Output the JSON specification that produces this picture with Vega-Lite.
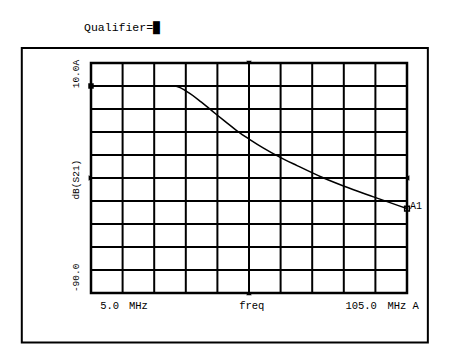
{
  "$schema": "https://vega.github.io/schema/vega-lite/v6.json",
  "width": 316,
  "height": 230,
  "autosize": {"type": "none"},
  "padding": {"left": 91, "top": 63, "right": 49, "bottom": 60},
  "background": "white",
  "config": {
    "view": {"stroke": "black", "strokeWidth": 2.5},
    "axis": {"disable": true},
    "text": {"font": "Liberation Mono", "color": "black"}
  },
  "datasets": {
    "curve": [
      {"freq": 5.0, "db": 0.0},
      {"freq": 20.0, "db": 0.0},
      {"freq": 31.6, "db": 0.0},
      {"freq": 33.5, "db": -0.9},
      {"freq": 36.0, "db": -3.0},
      {"freq": 39.0, "db": -6.0},
      {"freq": 42.0, "db": -9.3},
      {"freq": 45.0, "db": -12.7},
      {"freq": 48.0, "db": -16.0},
      {"freq": 51.2, "db": -19.5},
      {"freq": 55.4, "db": -23.4},
      {"freq": 59.6, "db": -27.0},
      {"freq": 64.3, "db": -30.6},
      {"freq": 70.2, "db": -34.6},
      {"freq": 78.1, "db": -39.7},
      {"freq": 84.9, "db": -43.5},
      {"freq": 94.4, "db": -48.2},
      {"freq": 102.3, "db": -52.0},
      {"freq": 105.0, "db": -53.3}
    ],
    "vgrid": [
      {"freq": 15}, {"freq": 25}, {"freq": 35}, {"freq": 45}, {"freq": 55},
      {"freq": 65}, {"freq": 75}, {"freq": 85}, {"freq": 95}
    ],
    "hgrid": [
      {"db": 0}, {"db": -10}, {"db": -20}, {"db": -30}, {"db": -40},
      {"db": -50}, {"db": -60}, {"db": -70}, {"db": -80}
    ],
    "markers": [
      {"freq": 5.0, "db": 0.0, "kind": "ref"},
      {"freq": 55.0, "db": 10.0, "kind": "top"},
      {"freq": 55.0, "db": -90.0, "kind": "bottom"},
      {"freq": 5.0, "db": -40.0, "kind": "left"},
      {"freq": 105.0, "db": -40.0, "kind": "right"}
    ],
    "active": [{"freq": 105.0, "db": -53.3, "name": "A1"}],
    "xlabels": [
      {"freq": 7.9, "db": -95.5, "label": "5.0"},
      {"freq": 17.0, "db": -95.5, "label": "MHz"},
      {"freq": 51.9, "db": -95.5, "label": "freq"},
      {"freq": 85.5, "db": -95.5, "label": "105.0"},
      {"freq": 98.8, "db": -95.5, "label": "MHz A"}
    ],
    "ylabels": [
      {"freq": 0.3, "db": -1.0, "label": "10.0A"},
      {"freq": 0.3, "db": -49.4, "label": "dB(S21)"},
      {"freq": 0.3, "db": -89.6, "label": "-90.0"}
    ],
    "title": [{"freq": 2.8, "db": 25.2, "label": "Qualifier=█"}],
    "frame": [{"x1": -16.9, "x2": 111.6, "y1": 16.5, "y2": -111.5}]
  },
  "layer": [
    {
      "data": {"name": "frame"},
      "mark": {"type": "rect", "filled": false, "stroke": "black", "strokeWidth": 2, "clip": false},
      "encoding": {
        "x": {"field": "x1", "type": "quantitative", "scale": {"domain": [5, 105], "nice": false, "zero": false}},
        "x2": {"field": "x2"},
        "y": {"field": "y1", "type": "quantitative", "scale": {"domain": [-90, 10], "nice": false, "zero": false}},
        "y2": {"field": "y2"}
      }
    },
    {
      "data": {"name": "vgrid"},
      "mark": {"type": "rule", "color": "black", "strokeWidth": 2},
      "encoding": {
        "x": {"field": "freq", "type": "quantitative"}
      }
    },
    {
      "data": {"name": "hgrid"},
      "mark": {"type": "rule", "color": "black", "strokeWidth": 2},
      "encoding": {
        "y": {"field": "db", "type": "quantitative"}
      }
    },
    {
      "data": {"name": "curve"},
      "mark": {"type": "line", "color": "black", "strokeWidth": 1.5, "interpolate": "monotone"},
      "encoding": {
        "x": {"field": "freq", "type": "quantitative"},
        "y": {"field": "db", "type": "quantitative"}
      }
    },
    {
      "data": {"name": "markers"},
      "mark": {"type": "point", "filled": true, "color": "black", "size": 30, "opacity": 1},
      "encoding": {
        "x": {"field": "freq", "type": "quantitative"},
        "y": {"field": "db", "type": "quantitative"},
        "shape": {"field": "kind", "type": "nominal", "legend": null,
          "scale": {"domain": ["ref", "top", "bottom", "left", "right"], "range": ["square", "triangle-down", "triangle-up", "triangle-right", "triangle-left"]}}
      }
    },
    {
      "data": {"name": "active"},
      "mark": {"type": "point", "shape": "square", "filled": false, "color": "black", "size": 22, "strokeWidth": 1.5, "opacity": 1},
      "encoding": {
        "x": {"field": "freq", "type": "quantitative"},
        "y": {"field": "db", "type": "quantitative"}
      }
    },
    {
      "data": {"name": "active"},
      "mark": {"type": "text", "align": "left", "baseline": "bottom", "dx": 3, "dy": 2, "fontSize": 10},
      "encoding": {
        "x": {"field": "freq", "type": "quantitative"},
        "y": {"field": "db", "type": "quantitative"},
        "text": {"field": "name"}
      }
    },
    {
      "data": {"name": "xlabels"},
      "mark": {"type": "text", "align": "left", "baseline": "middle", "fontSize": 10.5},
      "encoding": {
        "x": {"field": "freq", "type": "quantitative"},
        "y": {"field": "db", "type": "quantitative"},
        "text": {"field": "label"}
      }
    },
    {
      "data": {"name": "ylabels"},
      "mark": {"type": "text", "align": "left", "baseline": "middle", "angle": 270, "fontSize": 9.5},
      "encoding": {
        "x": {"field": "freq", "type": "quantitative"},
        "y": {"field": "db", "type": "quantitative"},
        "text": {"field": "label"}
      }
    },
    {
      "data": {"name": "title"},
      "mark": {"type": "text", "align": "left", "baseline": "middle", "fontSize": 11.5},
      "encoding": {
        "x": {"field": "freq", "type": "quantitative"},
        "y": {"field": "db", "type": "quantitative"},
        "text": {"field": "label"}
      }
    }
  ]
}
